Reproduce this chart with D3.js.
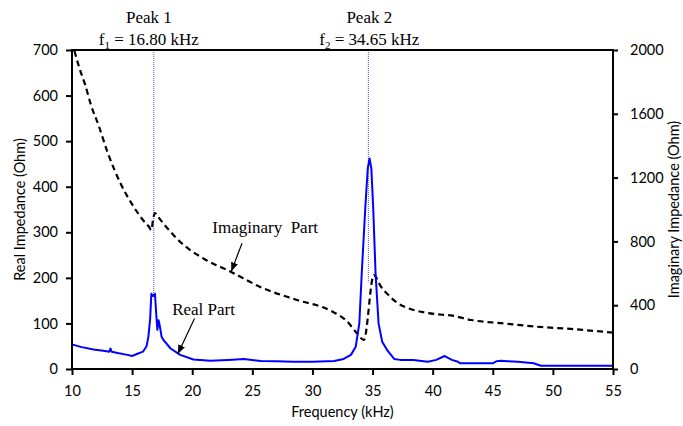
<!DOCTYPE html>
<html>
<head>
<meta charset="utf-8">
<script src="https://cdn.jsdelivr.net/npm/d3@7"></script>
<style>
  html, body { margin: 0; padding: 0; background: #fff; }
  svg { display: block; }
  .tick text { font-family: Lato, "Open Sans", sans-serif; font-size: 14.5px; fill: #000; }
  .title { font-family: Lato, "Open Sans", sans-serif; font-size: 14.5px; fill: #000; }
  .note { font-family: "Liberation Serif", "Times New Roman", serif; font-size: 17px; fill: #000; }
</style>
</head>
<body>
<svg id="chart" width="683" height="426"></svg>
<script>
// Real part of the impedance spectrum (Ohm, left axis)
const realFreq = [10, 10.8, 11.8, 12.6, 13.1, 13.2, 13.3, 13.8, 14.6, 15.0, 15.4, 15.9, 16.2, 16.35, 16.5, 16.6, 16.75, 16.9, 17.0, 17.1, 17.2, 17.3, 17.45, 17.6, 18.2, 19.0, 20.1, 21.5, 23.0, 24.3, 25.7, 27.0, 28.4, 30.0, 31.8, 32.6, 33.2, 33.6, 33.9, 34.1, 34.4, 34.6, 34.75, 34.9, 35.05, 35.25, 35.5, 35.8, 36.2, 36.8, 37.3, 38.4, 39.6, 40.3, 41.0, 41.6, 42.1, 42.3, 45.0, 45.3, 45.7, 46.2, 47.1, 48.4, 49.0, 55];
const realOhm = [54, 48, 43, 40, 38, 45, 38, 35, 31, 28.5, 33, 38, 50, 70, 110, 165, 160, 165, 123, 86, 107, 95, 71, 64, 45, 31, 21, 18, 20, 22, 17.5, 17, 16, 16, 17.5, 22, 31, 49, 100, 210, 356, 440, 462, 440, 356, 210, 100, 60, 42, 22, 20, 20, 16, 20, 28.5, 20, 16, 12.5, 12.5, 17, 18, 17, 16, 12.5, 7, 7];

// Imaginary part of the impedance spectrum (Ohm, right axis)
const imagFreq = [10.2, 10.6, 11.1, 11.6, 12.2, 13.0, 14.1, 15.2, 16.0, 16.4, 16.6, 16.75, 16.9, 17.1, 17.7, 19.1, 21.0, 23.2, 25.9, 28.7, 31.5, 32.9, 33.7, 34.28, 35.1, 35.7, 36.3, 37.1, 38.2, 39.3, 40.2, 40.8, 41.5, 43.2, 45.9, 48.7, 51.5, 55];
const imagOhm = [1995, 1890, 1781, 1650, 1530, 1350, 1154, 1009, 925, 892, 871, 940, 978, 960, 903, 790, 690, 610, 506, 433, 366, 297, 224, 182, 589, 516, 465, 412, 375, 355, 345, 340, 336, 307, 286, 265, 251, 228];

// Resonance markers
const peakNames = ["Peak 1", "Peak 2"];
const peakFreq = [16.80, 34.65];
const peakSub = ["1", "2"];
const peakLineEnd = [165, 190];

// Axis ticks
const xTicks = [10, 15, 20, 25, 30, 35, 40, 45, 50, 55];
const yLeftTicks = [0, 100, 200, 300, 400, 500, 600, 700];
const yRightTicks = [0, 400, 800, 1200, 1600, 2000];

const svg = d3.select("#chart");
const m = { left: 72, top: 50, right: 70, bottom: 57 };
const W = 683 - m.left - m.right;
const H = 426 - m.top - m.bottom;

const x = d3.scaleLinear().domain([10, 55]).range([m.left, m.left + W]);
const yL = d3.scaleLinear().domain([0, 700]).range([m.top + H, m.top]);
const yR = d3.scaleLinear().domain([0, 2000]).range([m.top + H, m.top]);

// Peak marker lines (dotted, behind the curves)
svg.append("g").selectAll("line").data(peakFreq).join("line")
  .attr("x1", d => x(d)).attr("x2", d => x(d))
  .attr("y1", yL(700)).attr("y2", (d, i) => yL(peakLineEnd[i]))
  .attr("stroke", "#4a4aff").attr("stroke-width", 1).attr("stroke-dasharray", "1,1");

// Imaginary part: dashed black
const imagData = imagFreq.map((f, i) => [f, imagOhm[i]]);
svg.append("path").datum(imagData)
  .attr("fill", "none").attr("stroke", "#000").attr("stroke-width", 2.2)
  .attr("stroke-dasharray", "6,4")
  .attr("d", d3.line().x(d => x(d[0])).y(d => yR(d[1])).curve(d3.curveMonotoneX));

// Real part: solid blue
const realData = realFreq.map((f, i) => [f, realOhm[i]]);
svg.append("path").datum(realData)
  .attr("fill", "none").attr("stroke", "#0000ff").attr("stroke-width", 2)
  .attr("stroke-linejoin", "round")
  .attr("d", d3.line().x(d => x(d[0])).y(d => yL(d[1])));

// Axes
const gx = svg.append("g").attr("transform", `translate(0,${m.top + H})`)
  .call(d3.axisBottom(x).tickValues(xTicks).tickSize(6).tickPadding(11).tickFormat(d3.format("d")));
const gl = svg.append("g").attr("transform", `translate(${m.left},0)`)
  .call(d3.axisLeft(yL).tickValues(yLeftTicks).tickSize(6).tickPadding(8).tickFormat(d3.format("d")));
const gr = svg.append("g").attr("transform", `translate(${m.left + W},0)`)
  .call(d3.axisRight(yR).tickValues(yRightTicks).tickSize(5).tickPadding(12).tickFormat(d3.format("d")));
[gx, gl, gr].forEach(g => {
  g.select(".domain").remove();
  g.selectAll(".tick line").attr("stroke", "#000").attr("stroke-width", 2);
});

// Frame lines
const frame = svg.append("g").attr("stroke", "#000").attr("stroke-width", 2).attr("stroke-linecap", "square");
frame.append("line").attr("x1", m.left).attr("x2", m.left + W).attr("y1", m.top + H).attr("y2", m.top + H);
frame.append("line").attr("x1", m.left).attr("x2", m.left + W).attr("y1", m.top).attr("y2", m.top);
frame.append("line").attr("x1", m.left).attr("x2", m.left).attr("y1", m.top).attr("y2", m.top + H);
frame.append("line").attr("x1", m.left + W).attr("x2", m.left + W).attr("y1", m.top).attr("y2", m.top + H);

// Axis titles
svg.append("text").attr("class", "title").attr("text-anchor", "middle")
  .attr("x", x(32.5)).attr("y", 417).text("Frequency (kHz)");
svg.append("text").attr("class", "title").attr("text-anchor", "middle")
  .attr("transform", `translate(25,${yL(350)}) rotate(-90)`).text("Real Impedance (Ohm)");
svg.append("text").attr("class", "title").attr("text-anchor", "middle")
  .attr("transform", `translate(679,${yL(350)}) rotate(-90)`).text("Imaginary Impedance (Ohm)");

// Peak labels
const labelCenter = [16.39, 34.73];
peakNames.forEach((name, i) => {
  svg.append("text").attr("class", "note").attr("text-anchor", "middle")
    .attr("x", x(labelCenter[i])).attr("y", 23).text(name);
  const t = svg.append("text").attr("class", "note").attr("text-anchor", "middle")
    .attr("x", x(labelCenter[i])).attr("y", 45);
  t.append("tspan").text("f");
  t.append("tspan").attr("dy", 4).attr("font-size", "11px").text(peakSub[i]);
  t.append("tspan").attr("dy", -4).text(` = ${peakFreq[i].toFixed(2)} kHz`);
});

// Arrowhead
svg.append("defs").append("marker").attr("id", "head")
  .attr("viewBox", "0 0 10 10").attr("refX", 10).attr("refY", 5)
  .attr("markerWidth", 9).attr("markerHeight", 9).attr("markerUnits", "userSpaceOnUse")
  .attr("orient", "auto")
  .append("path").attr("d", "M0,1 L10,5 L0,9 Z").attr("fill", "#000");

// Curve annotations
svg.append("text").attr("class", "note").attr("xml:space", "preserve")
  .attr("x", x(21.67)).attr("y", yR(853)).text("Imaginary  Part");
svg.append("line")
  .attr("x1", x(24.14)).attr("y1", yR(788)).attr("x2", x(23.25)).attr("y2", yR(612))
  .attr("stroke", "#000").attr("stroke-width", 1.2).attr("marker-end", "url(#head)");

svg.append("text").attr("class", "note")
  .attr("x", x(18.33)).attr("y", yL(118.5)).text("Real Part");
svg.append("line")
  .attr("x1", x(20.19)).attr("y1", yL(111)).attr("x2", x(18.8)).attr("y2", yL(33))
  .attr("stroke", "#000").attr("stroke-width", 1.2).attr("marker-end", "url(#head)");
</script>
</body>
</html>
